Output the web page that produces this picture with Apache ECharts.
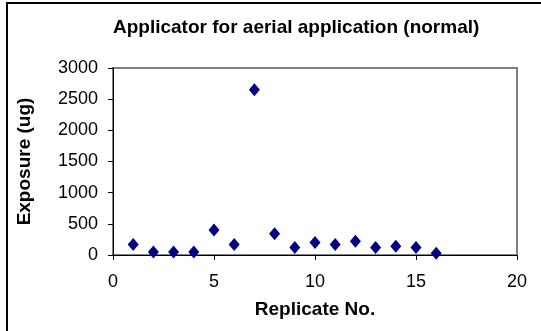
<!DOCTYPE html>
<html><head><meta charset="utf-8">
<script src="https://cdn.jsdelivr.net/npm/echarts@6/dist/echarts.min.js"></script>
<style>html,body{margin:0;padding:0;background:#fff}#c{width:541px;height:331px}</style>
</head><body><div id="c"></div>
<script>
const replicates = [1,2,3,4,5,6,7,8,9,10,11,12,13,14,15,16];
const exposure = [170,50,50,50,400,170,2650,340,120,200,170,220,120,140,120,30];
const xTicks = [0,5,10,15,20];
const yTicks = [0,500,1000,1500,2000,2500,3000];
const titleText = 'Applicator for aerial application (normal)';
const xName = 'Replicate No.';
const yName = 'Exposure (ug)';

const chart = echarts.init(document.getElementById('c'), null, {renderer:'canvas'});
const font = 'Liberation Sans, Arial, sans-serif';
chart.setOption({
  animation:false,
  backgroundColor:'#fff',
  title:{text:titleText,left:108,top:13,
    textStyle:{fontFamily:font,fontWeight:'bold',fontSize:19,color:'#000'}},
  graphic:[{type:'rect',shape:{x:7,y:3,width:560,height:360},
    style:{fill:null,stroke:'#000',lineWidth:2},silent:true}],
  grid:{left:113,right:24,top:68,bottom:76,show:true,borderColor:'#808080',borderWidth:2,backgroundColor:'transparent'},
  xAxis:{type:'value',min:xTicks[0],max:xTicks[xTicks.length-1],interval:5,
    name:xName,nameLocation:'middle',nameGap:45,
    nameTextStyle:{fontFamily:font,fontWeight:'bold',fontSize:19,color:'#000'},
    axisLine:{show:true,lineStyle:{color:'#000',width:1}},
    axisTick:{show:true,inside:false,length:5,lineStyle:{color:'#000'}},
    axisLabel:{fontFamily:font,fontSize:18,color:'#000',margin:18,formatter:v=>String(v)},
    splitLine:{show:false}},
  yAxis:{type:'value',min:yTicks[0],max:yTicks[yTicks.length-1],interval:500,
    name:yName,nameLocation:'middle',nameGap:79,
    nameTextStyle:{fontFamily:font,fontWeight:'bold',fontSize:19,color:'#000'},
    axisLine:{show:true,lineStyle:{color:'#000',width:1}},
    axisTick:{show:true,inside:false,length:5,lineStyle:{color:'#000'}},
    axisLabel:{fontFamily:font,fontSize:18,color:'#000',margin:15,formatter:v=>String(v)},
    splitLine:{show:false}},
  series:[{type:'scatter',data:replicates.map((r,i)=>[r,exposure[i]]),
    symbol:'diamond',symbolSize:[11,13],itemStyle:{color:'#000080',opacity:1}}]
});
</script></body></html>
